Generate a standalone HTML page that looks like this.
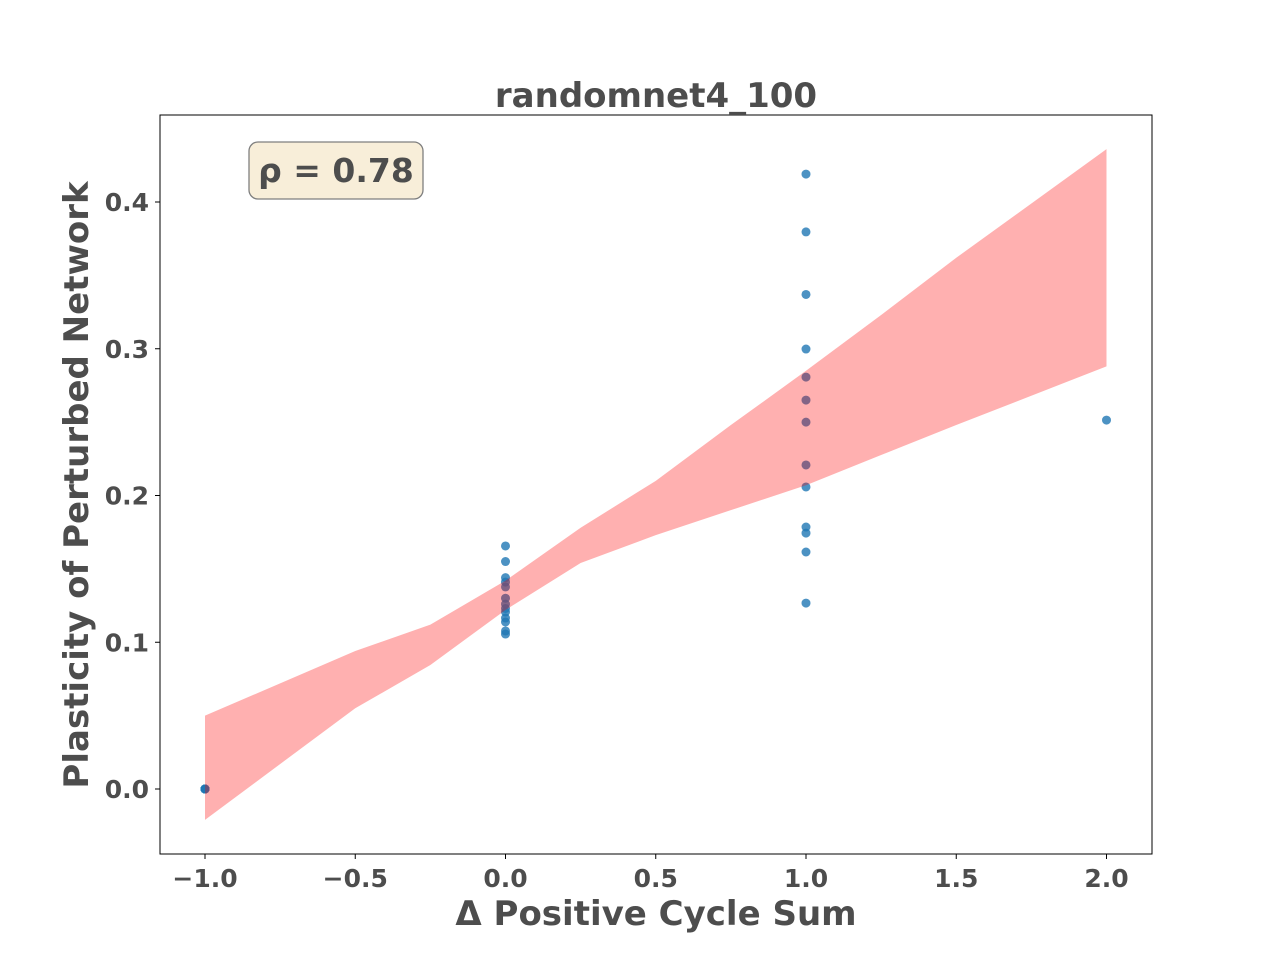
<!DOCTYPE html>
<html><head><meta charset="utf-8"><style>
html,body{margin:0;background:#fff;overflow:hidden;width:1280px;height:960px}
svg{display:block}
svg text{font-family:"DejaVu Sans","Liberation Sans",sans-serif;font-weight:bold;fill:#4d4d4d}
</style></head><body>
<svg id="c" width="1280" height="960" xmlns="http://www.w3.org/2000/svg"></svg>
<script>
const xs = [-1,-1,-1,-1,-1,-1,-1,-1,-1,0,0,0,0,0,0,0,0,0,0,0,0,0,1,1,1,1,1,1,1,1,1,1,1,1,1,2];
const ys = [0,0,0,0,0,0,0,0,0,0.1656,0.155,0.144,0.141,0.1377,0.130,0.126,0.123,0.1206,0.1165,0.1138,0.1077,0.1056,0.419,0.3796,0.337,0.2998,0.2807,0.265,0.250,0.2208,0.2058,0.1785,0.1744,0.1615,0.1267,0.2514];
const bandX = [-1,-0.5,-0.25,0,0.25,0.5,0.75,1,1.25,1.5,2];
const bandLow = [-0.021,0.055,0.0845,0.122,0.154,0.173,0.190,0.207,0.2276,0.248,0.288];
const bandHigh = [0.050,0.094,0.112,0.142,0.178,0.210,0.248,0.285,0.323,0.362,0.436];
const xTicks = [-1,-0.5,0,0.5,1,1.5,2];
const xTickLabels = ["\u22121.0","\u22120.5","0.0","0.5","1.0","1.5","2.0"];
const yTicks = [0,0.1,0.2,0.3,0.4];
const yTickLabels = ["0.0","0.1","0.2","0.3","0.4"];
const L=160,R=1152,T=115,B=854;
const sx=v=>205+(v+1)*300.5;
const sy=v=>789-v*1467.5;
const svg=document.getElementById('c');
const NS='http://www.w3.org/2000/svg';
function mk(t,a,txt){const e=document.createElementNS(NS,t);for(const k in a)e.setAttribute(k,a[k]);if(txt!=null)e.textContent=txt;svg.appendChild(e);return e;}
xs.forEach((x,i)=>{const p=mk('circle',{cx:sx(x),cy:sy(ys[i]),r:4.5,fill:'#1f77b4','fill-opacity':0.8});

});
let d='M'+bandX.map((x,i)=>sx(x)+','+sy(bandHigh[i])).join('L');
for(let i=bandX.length-1;i>=0;i--)d+='L'+sx(bandX[i])+','+sy(bandLow[i]);
const band=mk('path',{d:d+'Z',fill:'#ff0000','fill-opacity':0.31});


const fr=mk('rect',{x:L,y:T,width:R-L,height:B-T,fill:'none',stroke:'#000','stroke-width':1});


xTicks.forEach((v,i)=>{mk('line',{x1:sx(v),x2:sx(v),y1:B,y2:B+5,stroke:'#000'});
const t=mk('text',{x:sx(v),y:887,'text-anchor':'middle','font-size':25},xTickLabels[i]);

});
yTicks.forEach((v,i)=>{mk('line',{x1:L-5,x2:L,y1:sy(v),y2:sy(v),stroke:'#000'});
const t=mk('text',{x:149,y:sy(v)+9,'text-anchor':'end','font-size':25},yTickLabels[i]);

});
svg.insertAdjacentHTML('beforeend',
'<text x="656" y="107" text-anchor="middle" font-size="34">randomnet4_100</text>'+
'<text x="656" y="925" text-anchor="middle" font-size="34">\u0394 Positive Cycle Sum</text>'+
'<text transform="translate(88,485) rotate(-90)" text-anchor="middle" font-size="34">Plasticity of Perturbed Network</text>'+
'<rect x="249" y="142" width="174" height="57" rx="9" fill="#f8eed9" stroke="#7f7f7f" stroke-width="1.3"/>'+
'<text x="336" y="182" text-anchor="middle" font-size="33">\u03c1 = 0.78</text>');
</script>
</body></html>
